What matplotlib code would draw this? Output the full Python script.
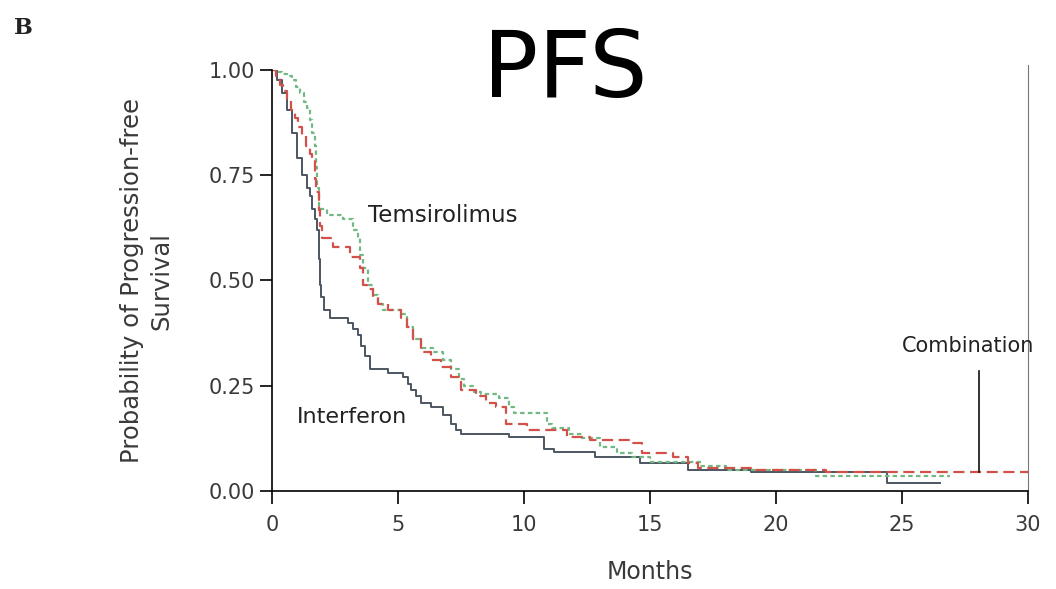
import matplotlib.pyplot as plt

# Kaplan-Meier steps (months, probability)
interferon_t = [0, 0.2, 0.4, 0.6, 0.8, 1.0, 1.2, 1.4, 1.5, 1.6, 1.7, 1.8, 1.88,
                1.92, 1.96, 2.05, 2.3, 3.0, 3.2, 3.4, 3.55, 3.7, 3.9, 4.6, 5.2,
                5.4, 5.5, 5.7, 5.9, 6.3, 6.8, 7.1, 7.3, 7.5, 9.4, 10.8, 11.2,
                12.8, 14.6, 16.5, 19.0, 24.4, 26.5]
interferon_s = [1.0, 0.975, 0.945, 0.905, 0.85, 0.79, 0.75, 0.72, 0.70, 0.67,
                0.645, 0.62, 0.55, 0.49, 0.46, 0.43, 0.41, 0.40, 0.385, 0.37,
                0.345, 0.32, 0.29, 0.28, 0.27, 0.255, 0.24, 0.225, 0.21, 0.20,
                0.18, 0.16, 0.145, 0.135, 0.128, 0.10, 0.093, 0.08, 0.066,
                0.05, 0.045, 0.02, 0.02]

temsirolimus_t = [0, 0.2, 0.4, 0.6, 0.8, 0.95, 1.1, 1.25, 1.4, 1.5, 1.6, 1.7,
                  1.75, 1.8, 1.85, 2.2, 2.8, 3.2, 3.4, 3.5, 3.6, 3.8, 4.0, 4.2,
                  4.4, 5.1, 5.35, 5.6, 5.9, 6.4, 6.8, 7.1, 7.4, 7.6, 8.0, 8.3,
                  9.0, 9.4, 9.6, 10.9, 11.1, 11.8, 12.3, 13.0, 13.7, 14.3, 15.0,
                  17.0, 18.0, 21.6, 26.9]
temsirolimus_s = [1.0, 0.995, 0.99, 0.985, 0.975, 0.96, 0.945, 0.925, 0.91,
                  0.88, 0.85, 0.82, 0.77, 0.72, 0.67, 0.655, 0.645, 0.62, 0.60,
                  0.56, 0.53, 0.49, 0.465, 0.445, 0.43, 0.42, 0.39, 0.36, 0.34,
                  0.33, 0.31, 0.29, 0.265, 0.25, 0.235, 0.23, 0.22, 0.20,
                  0.185, 0.16, 0.15, 0.135, 0.125, 0.105, 0.09, 0.08, 0.07,
                  0.06, 0.05, 0.036, 0.036]

combination_t = [0, 0.15, 0.3, 0.45, 0.6, 0.75, 0.9, 1.05, 1.2, 1.35, 1.5, 1.6,
                 1.7, 1.75, 1.85, 1.9, 2.0, 2.4, 3.1, 3.5, 3.6, 3.75, 4.0, 4.2,
                 4.6, 5.1, 5.35, 5.6, 5.9, 6.3, 6.7, 7.1, 7.5, 8.1, 8.5, 8.9,
                 9.3, 10.1, 11.7, 12.6, 14.3, 14.7, 15.9, 16.5, 16.9, 19.0,
                 22.0, 30.0]
combination_s = [1.0, 0.985, 0.965, 0.95, 0.93, 0.905, 0.885, 0.865, 0.845,
                 0.82, 0.80, 0.786, 0.74, 0.71, 0.667, 0.63, 0.60, 0.58, 0.556,
                 0.53, 0.49, 0.48, 0.46, 0.445, 0.43, 0.41, 0.39, 0.36, 0.33,
                 0.31, 0.295, 0.27, 0.24, 0.225, 0.21, 0.20, 0.16, 0.145,
                 0.128, 0.121, 0.114, 0.09, 0.081, 0.066, 0.055, 0.05, 0.045,
                 0.045]

x_ticks = [0, 5, 10, 15, 20, 25, 30]
y_ticks = [0.0, 0.25, 0.5, 0.75, 1.0]
y_tick_labels = ["0.00", "0.25", "0.50", "0.75", "1.00"]

text_color = "#3a3a3a"

fig = plt.figure(figsize=(10.56, 5.89), dpi=100)
ax = fig.add_axes([0.2576, 0.1664, 0.7159, 0.7148])

ax.step(interferon_t, interferon_s, where="post", color="#4b5661", lw=1.4)
ax.step(temsirolimus_t, temsirolimus_s, where="post", color="#72b883", lw=1.6,
        linestyle=(0, (2, 1.5)))
ax.step(combination_t, combination_s, where="post", color="#d2514b", lw=1.6,
        linestyle=(0, (5, 2.5)))

ax.set_xlim(0, 30)
ax.set_ylim(0, 1)
ax.spines["top"].set_visible(False)
ax.spines["right"].set_visible(False)
ax.spines["left"].set_linewidth(1.2)
ax.spines["bottom"].set_linewidth(1.2)
# thin right-hand frame line, a bit taller than the axis
ax.plot([30, 30], [0, 1.012], color="#777777", lw=0.8, clip_on=False)

ax.set_xticks(x_ticks)
ax.set_yticks(y_ticks)
ax.set_yticklabels(y_tick_labels)
ax.tick_params(axis="both", direction="out", length=9, width=1.2,
               labelsize=15, labelcolor=text_color)
ax.tick_params(axis="y", pad=3)
ax.tick_params(axis="x", pad=8)

fig.text(0.6155, 0.029, "Months", fontsize=17, color=text_color,
         ha="center", va="center")
fig.text(0.1387, 0.523, "Probability of Progression-free\nSurvival",
         fontsize=17.5, color=text_color, rotation=90, ha="center", va="center",
         linespacing=1.3)

ax.text(3.8, 0.655, "Temsirolimus", fontsize=16.5, color="#222222",
        va="center", ha="left")
ax.text(1.0, 0.175, "Interferon", fontsize=16, color="#222222",
        va="center", ha="left")
ax.text(25.0, 0.345, "Combination", fontsize=15, color="#222222",
        va="center", ha="left", clip_on=False)
ax.plot([28.05, 28.05], [0.045, 0.285], color="#111111", lw=1.2)

fig.text(0.535, 0.88, "PFS", fontsize=66, ha="center", va="center",
         family=["Liberation Sans Narrow", "DejaVu Sans"], color="black")
fig.text(0.022, 0.952, "B", fontsize=16, fontweight="bold", family="DejaVu Serif",
         ha="center", va="center", color="#222222")

fig.savefig("out.png", dpi=100)
